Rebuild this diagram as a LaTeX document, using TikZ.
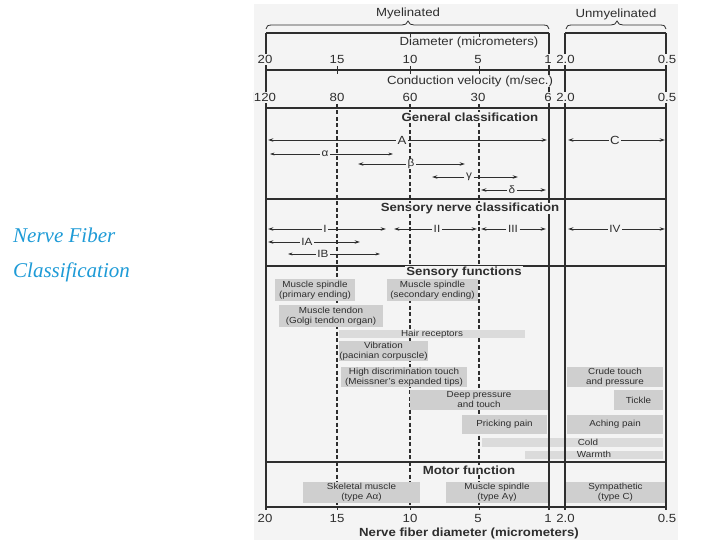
\documentclass[tikz,border=0pt]{standalone}
\usepackage{fontspec}
\setmainfont{Liberation Sans}[FakeStretch=1.12]
\newfontfamily\titlefont{Liberation Serif}
\usetikzlibrary{arrows.meta}
\definecolor{bg}{gray}{0.955}
\definecolor{boxgray}{gray}{0.81}
\definecolor{bandgray}{gray}{0.86}
\definecolor{titleblue}{RGB}{30,155,215}
\definecolor{ink}{gray}{0.18}
\tikzset{
  frameline/.style={draw=ink, line width=1.1pt},
  dashline/.style={draw=ink, line width=1.1pt, dash pattern=on 4pt off 2.5pt},
  tickmark/.style={draw=ink, line width=0.9pt},
  hdr/.style={font=\fontsize{11.8}{13}\selectfont, text=ink, fill=bg, inner xsep=1pt, inner ysep=0.5pt},
  bhdr/.style={font=\bfseries\fontsize{11.8}{13}\selectfont, text=ink, fill=bg, inner xsep=1pt, inner ysep=0.5pt},
  num/.style={font=\fontsize{11.8}{13}\selectfont, text=ink, fill=bg, inner xsep=0.5pt, inner ysep=1pt},
  fbox/.style={fill=boxgray, inner sep=0pt, align=center,
    font=\fontsize{8.8}{10}\selectfont, text=ink},
  band/.style={fill=bandgray, inner sep=0pt, font=\fontsize{8.8}{10}\selectfont, text=ink},
  rlbl/.style={fill=bg, inner xsep=1.5pt, inner ysep=0.5pt, font=\fontsize{10.5}{12}\selectfont, text=ink},
  biglbl/.style={rlbl, font=\fontsize{11.8}{13}\selectfont},
  rto/.style={draw=ink, line width=0.9pt, -{Stealth[length=5.5pt,width=3.6pt]}},
  thinto/.style={draw=ink, line width=0.5pt, -{Stealth[length=4.5pt,width=2.8pt]}},
  bracepath/.style={draw=ink, line width=0.8pt},
  titletext/.style={font=\titlefont\itshape\fontsize{21}{24}\selectfont, text=titleblue, inner sep=0pt, anchor=base west},
}
\begin{document}
\begin{tikzpicture}[x=1pt,y=-1pt]
\useasboundingbox (0,0) rectangle (720,540);
\fill[white] (0,0) rectangle (720,540);
\fill[bg] (254,4) rectangle (678,540);

% ---------- title ----------
\node[titletext] (t1) at (13,242) {Nerve Fiber};
\node[titletext] (t2) at (13,277) {Classification};

% ---------- dashed guide lines (under the boxes) ----------
\foreach \xx in {337,410,479} \draw[dashline] (\xx,104) -- (\xx,507);

% ---------- sensory function boxes ----------
\node[fbox, minimum width=80, minimum height=22] (msp) at (315,290) {Muscle spindle\\(primary ending)};
\node[fbox, minimum width=91, minimum height=22] (mss) at (432.5,290) {Muscle spindle\\(secondary ending)};
\node[fbox, minimum width=104, minimum height=22] (mt) at (331,316) {Muscle tendon\\(Golgi tendon organ)};
\node[band, minimum width=186, minimum height=8] (hair) at (432,334) {Hair receptors};
\node[fbox, minimum width=89, minimum height=20] (vib) at (383.5,351) {Vibration\\(pacinian corpuscle)};
\node[fbox, minimum width=126, minimum height=20] (hdt) at (404,377) {High discrimination touch\\(Meissner's expanded tips)};
\node[fbox, minimum width=138, minimum height=20] (dp) at (479,400) {Deep pressure\\and touch};
\node[fbox, minimum width=85, minimum height=19] (pp) at (504.5,424.5) {Pricking pain};
\node[band, minimum width=181, minimum height=9] (coldband) at (572.5,442.5) {};
\node[band, fill=none, minimum height=9] (cold) at (588,442.5) {Cold};
\node[band, minimum width=138, minimum height=8] (warm) at (594,454.5) {Warmth};
\node[fbox, minimum width=96, minimum height=20] (crude) at (615,377) {Crude touch\\and pressure};
\node[fbox, minimum width=49, minimum height=20] (tick) at (638.5,400) {Tickle};
\node[fbox, minimum width=96, minimum height=19] (ach) at (615,424.5) {Aching pain};

% ---------- motor boxes ----------
\node[fbox, minimum width=117, minimum height=21] (skm) at (361.5,492.5) {Skeletal muscle\\(type Aα)};
\node[fbox, minimum width=102, minimum height=21] (msm) at (497,492.5) {Muscle spindle\\(type Aγ)};
\node[fbox, minimum width=99, minimum height=21] (sym) at (615.5,492.5) {Sympathetic\\(type C)};

% ---------- frame ----------
\draw[frameline] (266,33) -- (549,33) (565,33) -- (666,33);
\foreach \yy in {70,108,199,266,462,507} \draw[frameline] (266,\yy) -- (666,\yy);
\foreach \xx in {266,549,565,666} \draw[frameline] (\xx,33) -- (\xx,510);
\foreach \xx in {337,410,479} \draw[tickmark] (\xx,66) -- (\xx,74);
\foreach \xx in {410,479} \draw[tickmark] (\xx,33) -- (\xx,37);
\foreach \xx in {337,410,479} \draw[tickmark] (\xx,507) -- (\xx,510);

% ---------- braces ----------
\draw[bracepath] (266,29) .. controls (266,26) and (268,25) .. (272,25) -- (402,25)
  .. controls (405,25) and (407,24) .. (408,21) .. controls (409,24) and (411,25) .. (414,25)
  -- (543,25) .. controls (547,25) and (549,26) .. (549,29);
\draw[bracepath] (566,29) .. controls (566,26) and (568,25) .. (572,25) -- (611,25)
  .. controls (614,25) and (616,24) .. (617,21) .. controls (618,24) and (620,25) .. (623,25)
  -- (660,25) .. controls (664,25) and (666,26) .. (666,29);
\node[hdr, fill=none] (myel) at (408,13.5) {Myelinated};
\node[hdr, fill=none] (unmyel) at (616,14) {Unmyelinated};

% ---------- headers ----------
\node[hdr] (diam) at (469,42.5) {Diameter (micrometers)};
\node[hdr] (cv) at (470,81.5) {Conduction velocity (m/sec.)};
\node[bhdr] (gc) at (470,117) {General classification};
\node[bhdr] (snc) at (470,208.5) {Sensory nerve classification};
\node[bhdr] (sf) at (464,272) {Sensory functions};
\node[bhdr] (mf) at (469,470) {Motor function};
\node[bhdr, fill=none] (xlab) at (469,533) {Nerve fiber diameter (micrometers)};

% ---------- numbers ----------
\node[num] (d20) at (265,59.5) {20};
\node[num] (d15) at (337,59.5) {15};
\node[num] (d10) at (410,59.5) {10};
\node[num] (d5) at (478,59.5) {5};
\node[num] (d1) at (548,59.5) {1};
\node[num] (d2) at (565.5,59.5) {2.0};
\node[num] (d05) at (667,59.5) {0.5};
\node[num] (v120) at (265,97.5) {120};
\node[num] (v80) at (337,97.5) {80};
\node[num] (v60) at (410,97.5) {60};
\node[num] (v30) at (478,97.5) {30};
\node[num] (v6) at (548,97.5) {6};
\node[num] (v2) at (565.5,97.5) {2.0};
\node[num] (v05) at (667,97.5) {0.5};
\node[num] (b20) at (265,518.5) {20};
\node[num] (b15) at (337,518.5) {15};
\node[num] (b10) at (410,518.5) {10};
\node[num] (b5) at (478,518.5) {5};
\node[num] (b1) at (548,518.5) {1};
\node[num] (b2) at (565.5,518.5) {2.0};
\node[num] (b05) at (667,518.5) {0.5};

% ---------- general classification ranges ----------
\coordinate (Al) at (268,140); \coordinate (Ar) at (547,140);
\node[biglbl] (A) at (402,140) {A};
\draw[rto] (A) -- (Al); \draw[rto] (A) -- (Ar);
\coordinate (Cl) at (568,140); \coordinate (Cr) at (665,140);
\node[biglbl] (C) at (615,140) {C};
\draw[rto] (C) -- (Cl); \draw[rto] (C) -- (Cr);
\coordinate (al) at (270,154); \coordinate (ar) at (393,154);
\node[rlbl] (alpha) at (325,154) {α};
\draw[thinto] (alpha) -- (al); \draw[thinto] (alpha) -- (ar);
\coordinate (bl) at (358,164); \coordinate (br) at (465,164);
\node[rlbl] (beta) at (411,164) {β};
\draw[rto] (beta) -- (bl); \draw[rto] (beta) -- (br);
\coordinate (gl) at (432,177); \coordinate (gr) at (518,177);
\node[rlbl] (gamma) at (469,177) {γ};
\draw[rto] (gamma) -- (gl); \draw[rto] (gamma) -- (gr);
\coordinate (dl) at (481,190); \coordinate (dr) at (546,190);
\node[rlbl] (delta) at (512,190) {δ};
\draw[rto] (delta) -- (dl); \draw[rto] (delta) -- (dr);

% ---------- sensory nerve classification ranges ----------
\coordinate (Il) at (268,229); \coordinate (Ir) at (386,229);
\node[rlbl] (I) at (325,229) {I};
\draw[rto] (I) -- (Il); \draw[rto] (I) -- (Ir);
\coordinate (IIl) at (394,229); \coordinate (IIr) at (477,229);
\node[rlbl] (II) at (437,229) {II};
\draw[rto] (II) -- (IIl); \draw[rto] (II) -- (IIr);
\coordinate (IIIl) at (481,229); \coordinate (IIIr) at (546,229);
\node[rlbl] (III) at (513,229) {III};
\draw[rto] (III) -- (IIIl); \draw[rto] (III) -- (IIIr);
\coordinate (IVl) at (568,229); \coordinate (IVr) at (665,229);
\node[rlbl] (IV) at (615,229) {IV};
\draw[rto] (IV) -- (IVl); \draw[rto] (IV) -- (IVr);
\coordinate (IAl) at (268,242); \coordinate (IAr) at (360,242);
\node[rlbl] (IA) at (307,242) {IA};
\draw[rto] (IA) -- (IAl); \draw[rto] (IA) -- (IAr);
\coordinate (IBl) at (288,254); \coordinate (IBr) at (380,254);
\node[rlbl] (IB) at (323,254) {IB};
\draw[thinto] (IB) -- (IBl); \draw[thinto] (IB) -- (IBr);
\end{tikzpicture}
\end{document}
